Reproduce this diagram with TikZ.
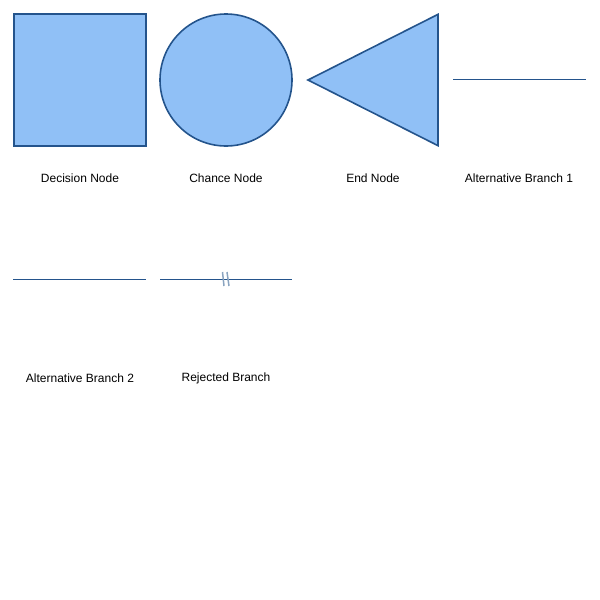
\documentclass[tikz,border=0pt]{standalone}
\usepackage{fontspec}
\setmainfont{Liberation Sans}
\usetikzlibrary{shapes.geometric}
\definecolor{nodefill}{HTML}{90C0F6}
\definecolor{nodeline}{HTML}{24548C}
\definecolor{slashc}{HTML}{8AA4C0}
\begin{document}
\begin{tikzpicture}[x=1pt,y=-1pt,
  shapebox/.style={draw=nodeline,fill=nodefill,line width=1.6pt,inner sep=0pt,outer sep=0pt},
  lbl/.style={font=\fontsize{12}{14}\selectfont,text=black,inner sep=0pt},
  branch/.style={draw=nodeline,line width=0.8pt},
  slash/.style={draw=slashc,line width=1.5pt}]
\useasboundingbox (0,0) rectangle (600,600);
\node[shapebox,rectangle,minimum width=132pt,minimum height=132pt] (dec) at (80,80) {};
\node[shapebox,circle,minimum size=132pt] (chance) at (226,80) {};
\node[shapebox,isosceles triangle,isosceles triangle apex angle=53.6,minimum height=130pt,anchor=apex,shape border rotate=180] (end) at (308,80) {};
\coordinate (a1s) at (453,79); \coordinate (a1e) at (586,79);
\draw[branch] (a1s) -- (a1e);
\coordinate (a2s) at (13,279); \coordinate (a2e) at (146,279);
\draw[branch] (a2s) -- (a2e);
\coordinate (rs) at (160,279); \coordinate (re) at (292,279);
\draw[branch] (rs) -- (re);
\coordinate (s1a) at (222.5,272); \coordinate (s1b) at (224,286);
\coordinate (s2a) at (227,272); \coordinate (s2b) at (229,286);
\draw[slash] (s1a) -- (s1b);
\draw[slash] (s2a) -- (s2b);
\node[lbl] (l1) at (80,178) {Decision Node};
\node[lbl] (l2) at (226,178) {Chance Node};
\node[lbl] (l3) at (373,178) {End Node};
\node[lbl] (l4) at (519,178) {Alternative Branch 1};
\node[lbl] (l5) at (80,378) {Alternative Branch 2};
\node[lbl] (l6) at (226,378) {Rejected Branch};
\end{tikzpicture}
\end{document}
